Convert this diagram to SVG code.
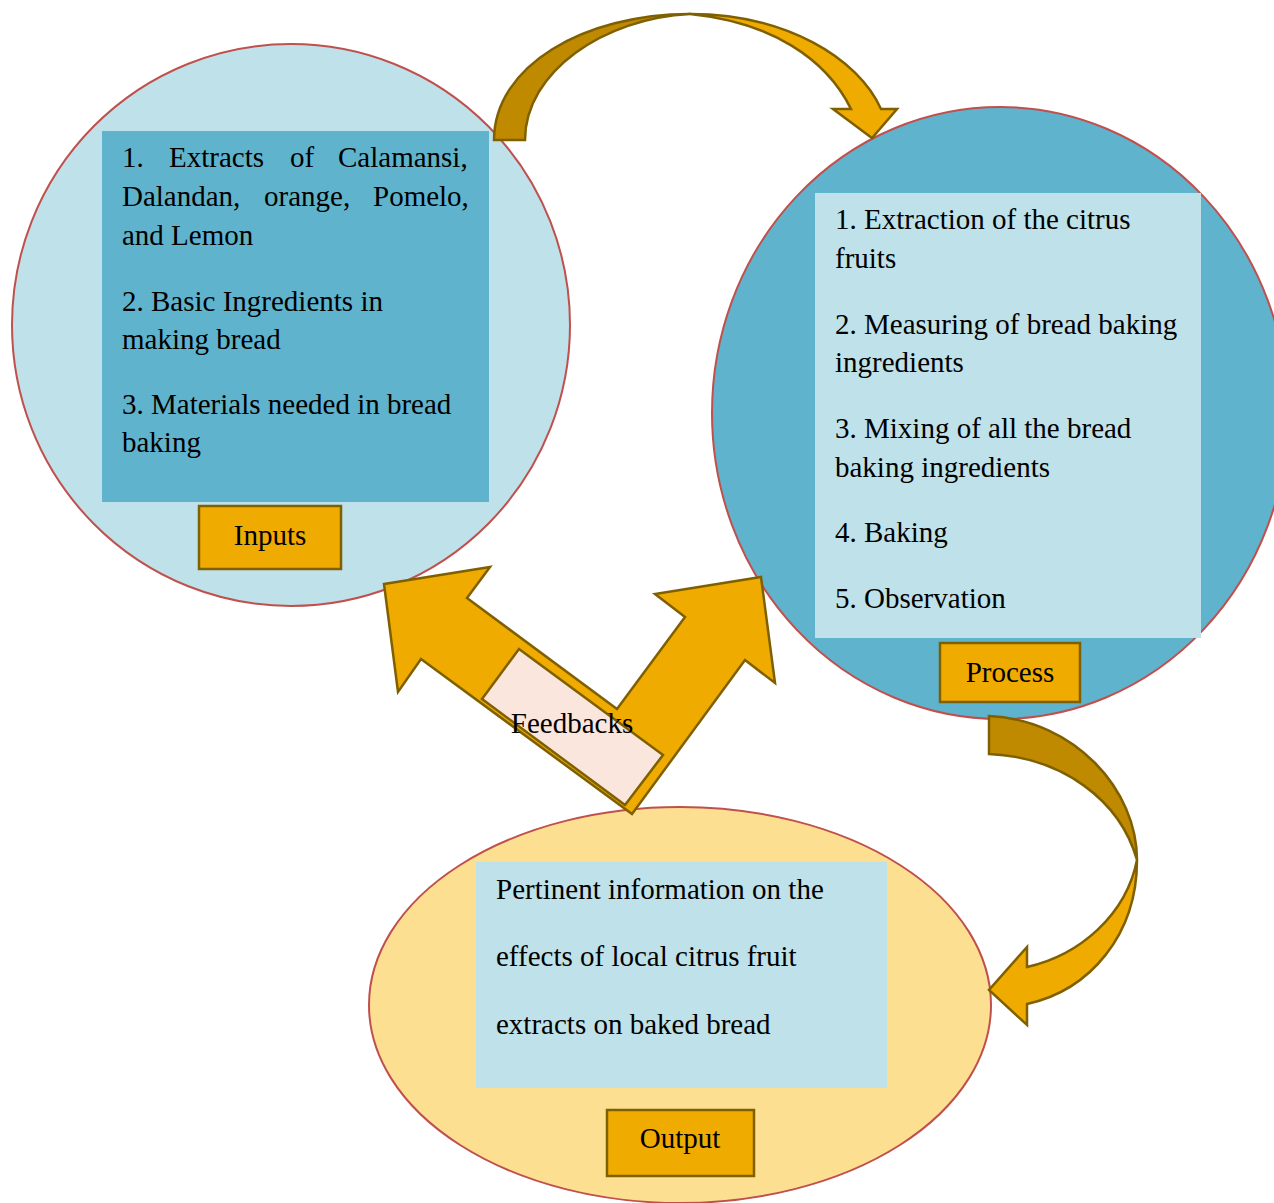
<svg xmlns="http://www.w3.org/2000/svg" width="1274" height="1203" viewBox="0 0 1274 1203">
<style>
.t{font-family:"Liberation Serif","Times New Roman",serif;font-size:29px;fill:#000}
.c{text-anchor:middle}
.ring{stroke:#c0504d;stroke-width:2}
.lbl{fill:#f0ab00;stroke:#7f6000;stroke-width:2.5}
.ar{stroke:#7f6000;stroke-width:2.5;stroke-linejoin:miter}
.dk{fill:#bf8900}
.lt{fill:#f0ab00}
</style>
<rect width="1274" height="1203" fill="#fff"/>
<g id="inputs">
<ellipse class="ring" cx="291" cy="325" rx="279" ry="281" fill="#bfe1e9"/>
<rect x="102" y="131" width="387" height="371" fill="#5fb3cc"/>
<text class="t" x="122" y="167">1.</text>
<text class="t" x="169" y="167">Extracts</text>
<text class="t" x="290" y="167">of</text>
<text class="t" x="338" y="167">Calamansi,</text>
<text class="t" x="122" y="206">Dalandan,</text>
<text class="t" x="264" y="206">orange,</text>
<text class="t" x="373" y="206">Pomelo,</text>
<text class="t" x="122" y="245">and Lemon</text>
<text class="t" x="122" y="311">2. Basic Ingredients in</text>
<text class="t" x="122" y="349">making bread</text>
<text class="t" x="122" y="414">3. Materials needed in bread</text>
<text class="t" x="122" y="452">baking</text>
<rect class="lbl" x="199" y="506" width="142" height="63"/>
<text class="t c" x="270" y="545">Inputs</text>
</g>
<g id="process">
<ellipse class="ring" cx="1000" cy="413" rx="288" ry="306" fill="#5fb3cc"/>
<rect x="815" y="193" width="386" height="445" fill="#bfe1e9"/>
<text class="t" x="835" y="229">1. Extraction of the citrus</text>
<text class="t" x="835" y="268">fruits</text>
<text class="t" x="835" y="334">2. Measuring of bread baking</text>
<text class="t" x="835" y="372">ingredients</text>
<text class="t" x="835" y="438">3. Mixing of all the bread</text>
<text class="t" x="835" y="477">baking ingredients</text>
<text class="t" x="835" y="542">4. Baking</text>
<text class="t" x="835" y="608">5. Observation</text>
<rect class="lbl" x="940" y="643" width="140" height="59"/>
<text class="t c" x="1010" y="682">Process</text>
</g>
<g id="output">
<ellipse class="ring" cx="680" cy="1005" rx="311" ry="198" fill="#fddf91"/>
<rect x="476" y="862" width="411" height="226" fill="#bfe1e9"/>
<text class="t" x="496" y="899">Pertinent information on the</text>
<text class="t" x="496" y="966">effects of local citrus fruit</text>
<text class="t" x="496" y="1034">extracts on baked bread</text>
<rect class="lbl" x="607" y="1110" width="147" height="66"/>
<text class="t c" x="680" y="1148">Output</text>
</g>
<g id="connectors">
<path class="ar dk" d="M494,140 C494,66 584,14 690,14 C604,18 525,72 525,140 Z"/>
<path class="ar lt" d="M690,14 C786,14 858,58 881,109 L897,109 L872,138 L833,109 L851,109 C826,58 770,22 690,14 Z"/>
<path class="ar dk" d="M989,716 C1075,720 1137,790 1137,860 C1120,800 1062,757 989,754 Z"/>
<path class="ar lt" d="M1137,860 C1137,935 1090,990 1027,1004 L1027,1025 L989,990 L1027,947 L1027,967 C1080,955 1126,915 1137,860 Z"/>
<g id="feedbacks">
<polygon class="ar lt" points="384,584 490,567 467,598 617,709 685,617 655,594 761,577 775,683 745,660 632,814 421,659 398,692"/>
<polygon class="ar" fill="#fae6dc" points="519,649 663,755 625,805 482,699"/>
<text class="t c" x="572" y="733">Feedbacks</text>
</g>
</g>
</svg>
